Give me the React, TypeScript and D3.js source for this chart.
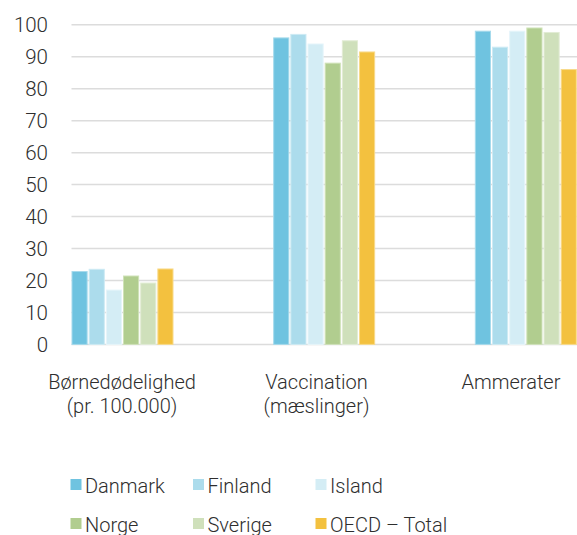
import React from "react";
import * as d3 from "d3";

const categories = ["Børnedødelighed|(pr. 100.000)", "Vaccination|(mæslinger)", "Ammerater"];
const seriesNames = ["Danmark", "Finland", "Island", "Norge", "Sverige", "OECD – Total"];
const colors = ["#6fc3e0", "#acdcec", "#d4edf5", "#b1cd8f", "#cfe0bb", "#f3c13f"];
const strokes = ["#a6daec", "#cdeaf4", "#e6f5fa", "#cfe2b8", "#e2ecd5", "#f8da8a"];
const values: number[][] = [
  [22.8, 95.9, 98.0],
  [23.5, 97.0, 93.0],
  [17.0, 94.0, 98.0],
  [21.4, 88.0, 99.0],
  [19.2, 95.0, 97.6],
  [23.6, 91.5, 86.0],
];
const yTicks = [0, 10, 20, 30, 40, 50, 60, 70, 80, 90, 100];

const W = 577;
const H = 535;
const FONT = "Roboto, 'DejaVu Sans', sans-serif";
const TEXT = "#2e2e2e";

export default function App() {
  const y = d3.scaleLinear().domain([0, 100]).range([344.4, 24.8]);
  const x0 = d3.scaleBand<string>().domain(categories).range([72, 677]).paddingInner(0).paddingOuter(0);
  const x1 = d3.scaleBand<string>().domain(seriesNames).range([0, 101]).paddingInner(0.118).paddingOuter(0);
  const labelX = d3.scaleBand<string>().domain(categories).range([24.75, 608.25]);
  const legendX = d3.scalePoint<number>().domain([0, 1, 2]).range([70.5, 315.5]);
  const legendY = [479, 518];

  return (
    <svg width={W} height={H} style={{ position: "absolute", left: 0, top: 0 }} fontFamily={FONT}>
      <rect width={W} height={H} fill="#fff" />
      {yTicks.map((t) => (
        <g key={t}>
          <line x1={71.5} x2={W} y1={y(t)} y2={y(t)} stroke="#dcdcdc" strokeWidth={1.5} />
          <text x={48} y={y(t)} dy="0.36em" textAnchor="end" fontSize={20.5} fill={TEXT} fontWeight={300}>
            {t}
          </text>
        </g>
      ))}
      {seriesNames.map((s, si) =>
        categories.map((c, ci) => {
          const v = values[si][ci];
          const bx = (x0(c) as number) + (x1(s) as number);
          return (
            <rect
              key={s + c}
              x={bx}
              y={y(v)}
              width={x1.bandwidth()}
              height={y(0) - y(v)}
              fill={colors[si]}
              stroke={strokes[si]}
              strokeWidth={1}
            />
          );
        })
      )}
      {categories.map((c) => {
        const lines = c.split("|");
        const cx = (labelX(c) as number) + labelX.bandwidth() / 2;
        return (
          <text key={c} x={cx} y={389} textAnchor="middle" fontSize={20} fill={TEXT} fontWeight={300}>
            {lines.map((l, i) => (
              <tspan key={i} x={cx} dy={i === 0 ? 0 : 24}>
                {l}
              </tspan>
            ))}
          </text>
        );
      })}
      {seriesNames.map((s, i) => {
        const col = i % 3;
        const row = Math.floor(i / 3);
        const lx = legendX(col) as number;
        const ly = legendY[row];
        return (
          <g key={s}>
            <rect x={lx} y={ly} width={11} height={11} fill={colors[i]} />
            <text x={lx + 14.5} y={ly + 13.5} fontSize={20} fill={TEXT} fontWeight={300}>
              {s}
            </text>
          </g>
        );
      })}
    </svg>
  );
}
